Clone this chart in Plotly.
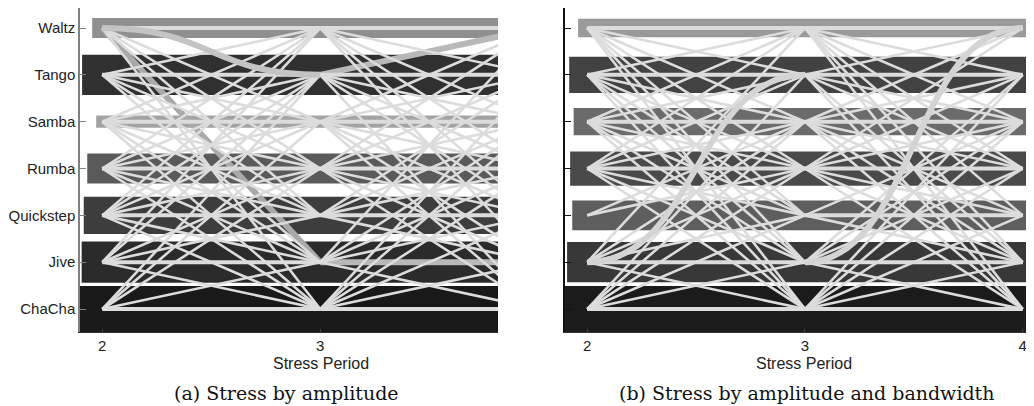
import plotly.graph_objects as go
from plotly.subplots import make_subplots

dances = ["ChaCha", "Jive", "Quickstep", "Rumba", "Samba", "Tango", "Waltz"]
periods = [2, 3, 4]

# band thickness (category units) and shade for each dance
band_a = [0.98, 0.88, 0.79, 0.64, 0.26, 0.86, 0.43]
shade_a = ["#191919", "#2b2b2b", "#3d3d3d", "#5a5a5a", "#a3a3a3", "#303030", "#8f8f8f"]
band_b = [0.98, 0.86, 0.64, 0.73, 0.58, 0.77, 0.39]
shade_b = ["#1b1b1b", "#383838", "#5e5e5e", "#4a4a4a", "#6b6b6b", "#424242", "#9a9a9a"]

# transitions between stress periods: source dance -> target dances
a_23 = {
    "Waltz": ["Waltz", "Samba", "Rumba", "Quickstep", "ChaCha"],
    "Tango": ["Waltz", "Tango", "Samba", "Rumba", "Quickstep", "Jive"],
    "Samba": ["Waltz", "Tango", "Samba", "Rumba", "Quickstep", "Jive", "ChaCha"],
    "Rumba": ["Waltz", "Tango", "Samba", "Rumba", "Quickstep", "Jive", "ChaCha"],
    "Quickstep": ["Waltz", "Tango", "Samba", "Rumba", "Quickstep", "Jive", "ChaCha"],
    "Jive": ["Waltz", "Tango", "Rumba", "Quickstep", "Jive", "ChaCha"],
    "ChaCha": ["Tango", "Samba", "Rumba", "Jive", "ChaCha"],
}
a_34 = {
    "Waltz": ["Waltz", "Tango", "Samba", "Rumba", "Quickstep", "Jive"],
    "Tango": ["Tango", "Samba", "Rumba", "Quickstep", "ChaCha"],
    "Samba": ["Waltz", "Tango", "Samba", "Rumba", "Quickstep", "Jive", "ChaCha"],
    "Rumba": ["Waltz", "Tango", "Samba", "Rumba", "Quickstep", "Jive", "ChaCha"],
    "Quickstep": ["Tango", "Samba", "Rumba", "Quickstep", "Jive"],
    "Jive": ["Waltz", "Samba", "Rumba", "Quickstep", "ChaCha"],
    "ChaCha": ["Tango", "Samba", "Rumba", "Quickstep", "Jive", "ChaCha"],
}
b_23 = {
    "Waltz": ["Waltz", "Tango", "Samba", "Rumba", "Quickstep", "Jive", "ChaCha"],
    "Tango": ["Waltz", "Tango", "Samba", "Rumba", "Quickstep", "Jive", "ChaCha"],
    "Samba": ["Waltz", "Tango", "Samba", "Rumba", "Quickstep", "Jive", "ChaCha"],
    "Rumba": ["Waltz", "Tango", "Samba", "Rumba", "Quickstep", "Jive", "ChaCha"],
    "Quickstep": ["Samba", "Rumba"],
    "Jive": ["Waltz", "Samba", "Rumba", "Quickstep", "Jive", "ChaCha"],
    "ChaCha": ["Tango", "Samba", "Rumba", "Quickstep", "Jive", "ChaCha"],
}
b_34 = {
    "Waltz": ["Waltz", "Tango", "Samba", "Rumba", "Quickstep", "Jive", "ChaCha"],
    "Tango": ["Waltz", "Tango", "Samba", "Rumba", "Jive", "ChaCha"],
    "Samba": ["Waltz", "Tango", "Samba", "Rumba", "Quickstep", "Jive", "ChaCha"],
    "Rumba": ["Waltz", "Tango", "Samba", "Rumba", "Quickstep", "Jive", "ChaCha"],
    "Quickstep": ["Samba", "Quickstep", "Jive"],
    "Jive": ["Tango", "Samba", "Rumba", "Jive", "ChaCha"],
    "ChaCha": ["Tango", "Samba", "Rumba", "Quickstep", "Jive", "ChaCha"],
}

# heavier single flows: (from period, from dance, to dance, curved)
flows_a = [(2, "Waltz", "Jive", False), (3, "Jive", "Jive", False),
           (2, "Waltz", "Tango", True), (3, "Tango", "Waltz", False)]
flows_b = [(2, "Jive", "Tango", True), (3, "Jive", "Waltz", True)]

PX_Y = 46.8   # px per category
PX_X = 217.7  # px per period

fig = make_subplots(rows=1, cols=2)


def draw(col, band, shade, e23, e34, flows):
    xa = "x" if col == 1 else "x2"
    ya = "y" if col == 1 else "y2"
    # bands: thick strokes with square caps from period 2 to period 4
    ext = [b * PX_Y / 2 / PX_X for b in band]
    fig.add_trace(go.Bar(orientation="h", y=list(range(len(dances))),
                         x=[periods[-1] - periods[0] + 2 * e for e in ext],
                         base=[periods[0] - e for e in ext], width=band,
                         marker=dict(color=shade, line=dict(width=0)),
                         showlegend=False, hoverinfo="skip"), row=1, col=col)
    for p, s, t, curved in flows:
        y0, y1 = dances.index(s), dances.index(t)
        if curved:
            x0, x1 = p, p + 1
            xm = (x0 + x1) / 2
            fig.add_shape(type="path", xref=xa, yref=ya, layer="above",
                          path=f"M {x0},{y0} C {xm},{y0} {xm},{y1} {x1},{y1}",
                          line=dict(color="#c4c4c4" if col == 1 else "#d4d4d4", width=6))
        else:
            colr = "#a9a9a9" if (s, t) == ("Waltz", "Jive") else "#b8b8b8"
            fig.add_trace(go.Scatter(x=[p, p + 1], y=[y0, y1], mode="lines",
                                     line=dict(color=colr, width=6),
                                     showlegend=False, hoverinfo="skip"), row=1, col=col)
    # light transition lines
    for p, edges in [(2, e23), (3, e34)]:
        for wide in (False, True):
            xs, ys = [], []
            for s, targets in edges.items():
                for t in targets:
                    if (s == t) != wide:
                        continue
                    xs += [p, p + 1, None]
                    ys += [dances.index(s), dances.index(t), None]
            fig.add_trace(go.Scatter(x=xs, y=ys, mode="lines",
                                     line=dict(color="#dcdcdc", width=4 if wide else 2.6),
                                     showlegend=False, hoverinfo="skip"), row=1, col=col)


draw(1, band_a, shade_a, a_23, a_34, flows_a)
draw(2, band_b, shade_b, b_23, b_34, flows_b)

# the page body adds an 8px offset, so the figure is 8px smaller than the window
tickfont = dict(family="Liberation Sans, Arial, sans-serif", size=15, color="#222222")
fig.update_yaxes(range=[-0.49, 6.427], tickvals=list(range(len(dances))), showgrid=False,
                 zeroline=False, ticks="inside", ticklen=6, showline=True,
                 linewidth=1.5, tickfont=tickfont, domain=[0.1859, 1.0],
                 automargin=False)
fig.update_yaxes(ticktext=dances, linecolor="#808080", tickcolor="#808080", row=1, col=1)
fig.update_yaxes(showticklabels=False, linecolor="#111111", tickcolor="#111111", row=1, col=2)
fig.update_xaxes(tickvals=periods, showgrid=False, zeroline=False, ticks="inside",
                 ticklen=3, showline=True, linewidth=1, linecolor="#333333",
                 tickfont=tickfont, automargin=False)
fig.update_xaxes(range=[1.898, 3.816], domain=[0.0702, 0.4776], row=1, col=1)
fig.update_xaxes(range=[1.898, 4.052], domain=[0.5429, 1.0], row=1, col=2)

titlefont = dict(family="Liberation Sans, Arial, sans-serif", size=16, color="#222222")
for xc in (0.305, 0.7758):
    fig.add_annotation(text="Stress Period", x=xc, y=0.107, xref="paper", yref="paper",
                       showarrow=False, font=titlefont, xanchor="center", yanchor="middle")

capfont = dict(family="DejaVu Serif, Liberation Serif, serif", size=19, color="#111111")
fig.add_annotation(text="(a) Stress by amplitude", x=0.2714, y=0.0327, xref="paper",
                   yref="paper", showarrow=False, font=capfont, xanchor="center",
                   yanchor="middle")
fig.add_annotation(text="(b) Stress by amplitude and bandwidth", x=0.7792, y=0.0327,
                   xref="paper", yref="paper", showarrow=False, font=capfont,
                   xanchor="center", yanchor="middle")

fig.update_layout(width=1026, height=398, margin=dict(l=0, r=0, t=0, b=0),
                  plot_bgcolor="white", paper_bgcolor="white", barmode="overlay",
                  showlegend=False)
fig.write_html("out.html")
